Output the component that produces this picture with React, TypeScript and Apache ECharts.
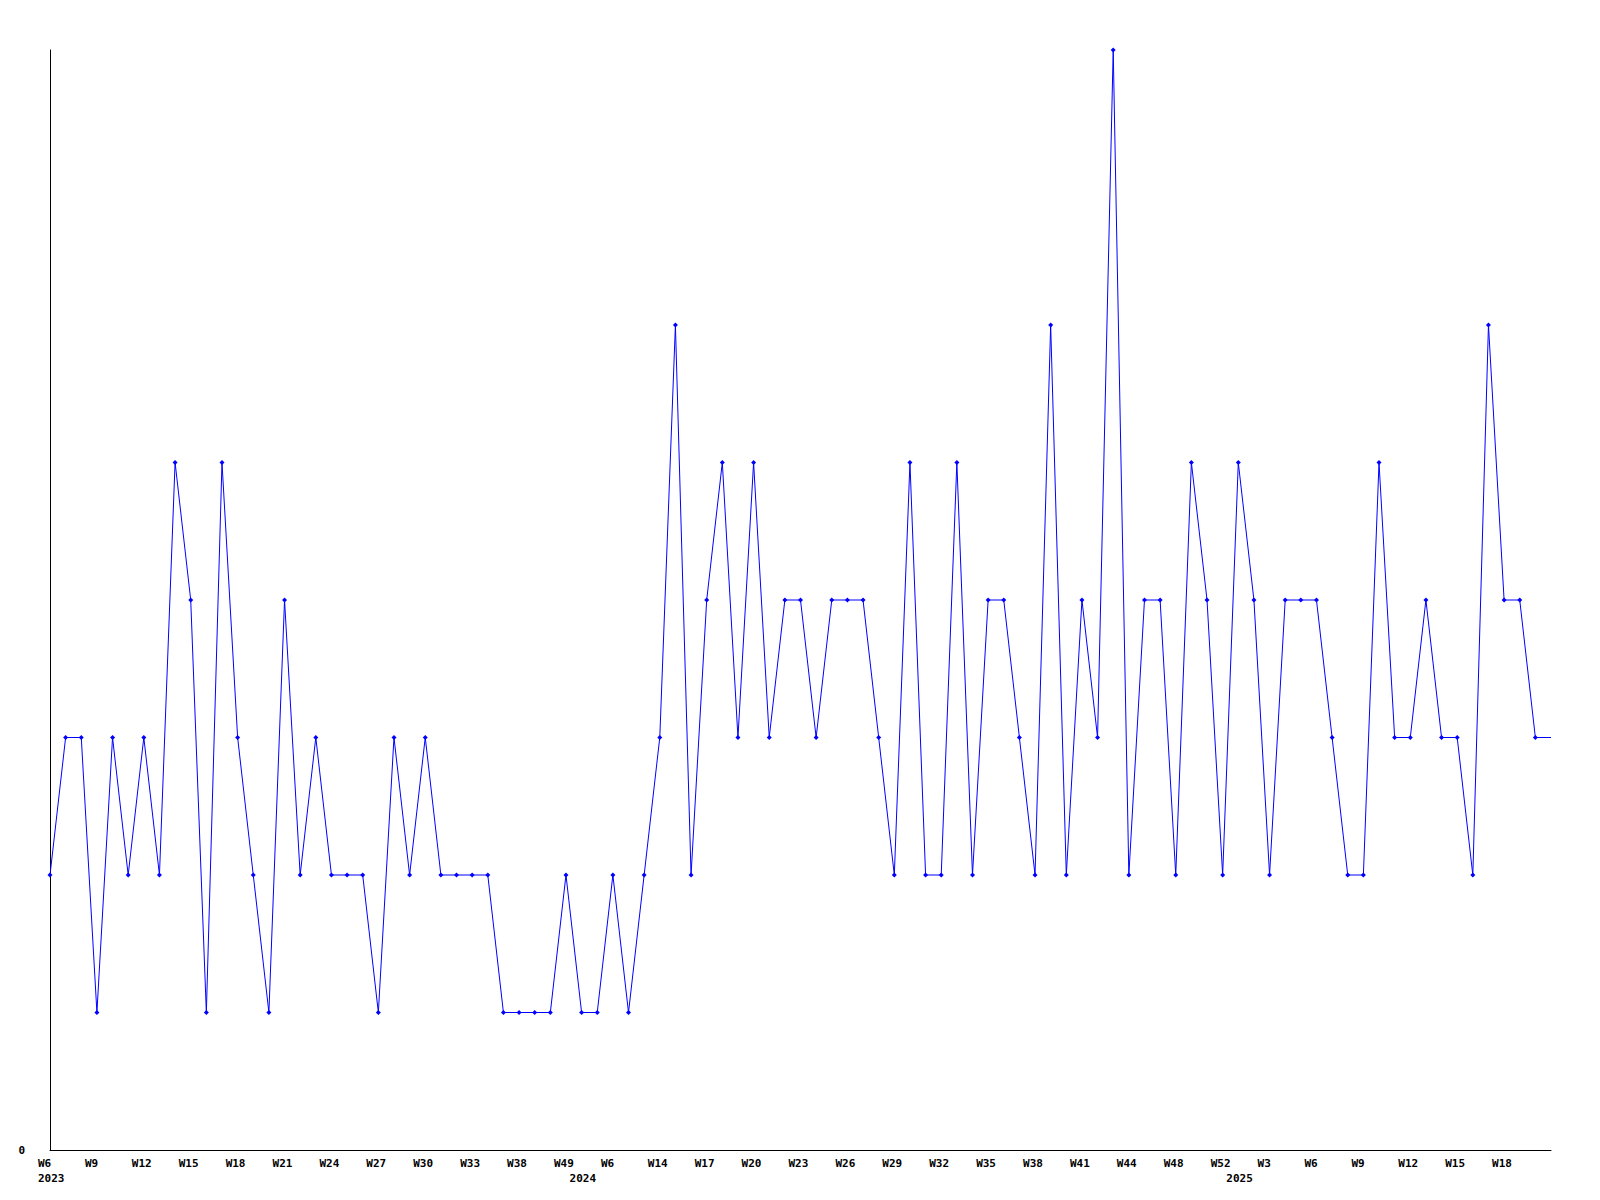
import React, { useEffect, useRef } from "react";
import * as echarts from "echarts";

// Week labels for each data point (gaps in the source data are kept)
const weeks: string[] = [
  "W6","W7","W8","W9","W10","W11","W12","W13","W14","W15",
  "W16","W17","W18","W19","W20","W21","W22","W23","W24","W25",
  "W26","W27","W28","W29","W30","W31","W32","W33","W35","W37",
  "W38","W42","W45","W49","W1","W3","W6","W9","W12","W14",
  "W15","W16","W17","W18","W19","W20","W21","W22","W23","W24",
  "W25","W26","W27","W28","W29","W30","W31","W32","W33","W34",
  "W35","W36","W37","W38","W39","W40","W41","W42","W43","W44",
  "W45","W47","W48","W50","W51","W52","W1","W2","W3","W4",
  "W5","W6","W7","W8","W9","W10","W11","W12","W13","W14",
  "W15","W16","W17","W18","W19","W20","W21",
];

// Year markers: index of first point in a year -> year
const yearIndices: number[] = [0, 34, 76];
const yearLabels: string[] = ["2023", "2024", "2025"];

// Values per point
const values: number[] = [
  2,3,3,1,3,2,3,2,5,4,
  1,5,3,2,1,4,2,3,2,2,
  2,1,3,2,3,2,2,2,2,1,
  1,1,1,2,1,1,2,1,2,3,
  6,2,4,5,3,5,3,4,4,3,
  4,4,4,3,2,5,2,2,5,2,
  4,4,3,2,6,2,4,3,8,2,
  4,4,2,5,4,2,5,4,2,4,
  4,4,3,2,2,5,3,3,4,3,
  3,2,6,4,4,3,3,
];

const lastLabelIndex = 93;

export default function App() {
  const ref = useRef<HTMLDivElement>(null);
  useEffect(() => {
    if (!ref.current) return;
    const chart = echarts.init(ref.current, null, { renderer: "svg" });
    const font = "DejaVu Sans Mono";
    const data = values.map((v, i) =>
      i === values.length - 1 ? { value: v, symbol: "none" } : v
    );
    chart.setOption({
      animation: false,
      backgroundColor: "#ffffff",
      grid: { left: 50, right: 49, top: 50, bottom: 50, containLabel: false },
      xAxis: {
        type: "category",
        data: weeks,
        boundaryGap: false,
        axisLine: { lineStyle: { color: "#000000", width: 1 } },
        axisTick: { show: false },
        splitLine: { show: false },
        axisLabel: {
          interval: (idx: number) =>
            (idx % 3 === 0 && idx <= lastLabelIndex) || yearIndices.includes(idx),
          margin: 6,
          align: "center",
          color: "#000000",
          fontFamily: font,
          fontWeight: "bold",
          fontSize: 11,
          lineHeight: 15,
          formatter: (val: string, idx: number) => {
            const showWeek = idx % 3 === 0 && idx <= lastLabelIndex;
            const yi = yearIndices.indexOf(idx);
            const first = showWeek ? `{w|${val}}` : `{w| }`;
            return yi >= 0 ? `${first}\n{w|${yearLabels[yi]}}` : first;
          },
          rich: {
            w: {
              width: 24,
              align: "left",
              fontFamily: font,
              fontWeight: "bold",
              fontSize: 11,
              lineHeight: 15,
              color: "#000000",
            },
          },
        },
      },
      yAxis: {
        type: "value",
        min: 0,
        max: 8,
        interval: 8,
        axisLine: { show: true, lineStyle: { color: "#000000", width: 1 } },
        axisTick: { show: false },
        splitLine: { show: false },
        axisLabel: {
          margin: 25,
          color: "#000000",
          fontFamily: font,
          fontWeight: "bold",
          fontSize: 11,
          formatter: (v: number) => (v === 0 ? "0" : ""),
        },
      },
      series: [
        {
          type: "line",
          data,
          symbol: "diamond",
          symbolSize: 5,
          showSymbol: true,
          lineStyle: { color: "#0000ff", width: 1 },
          itemStyle: { color: "#0000ff" },
        },
      ],
    });
    return () => chart.dispose();
  }, []);
  return (
    <div
      ref={ref}
      style={{ position: "absolute", left: 0, top: 0, width: 1600, height: 1200 }}
    />
  );
}
